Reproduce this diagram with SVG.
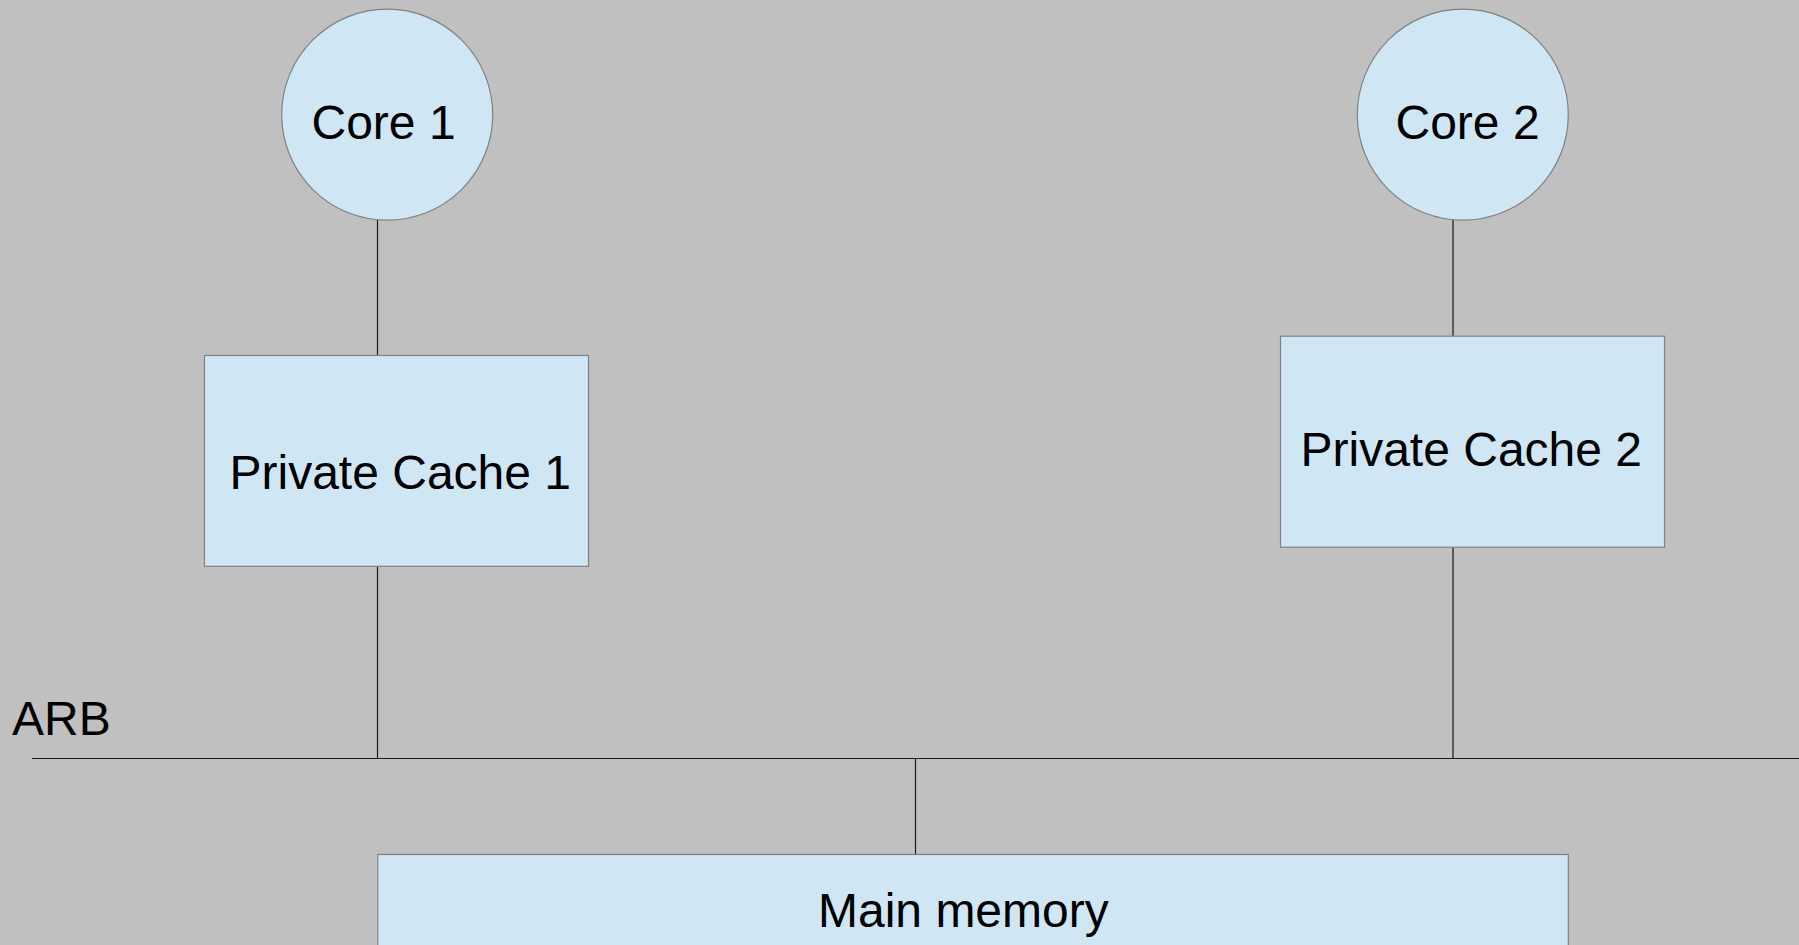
<svg xmlns="http://www.w3.org/2000/svg" width="1799" height="945" viewBox="0 0 1799 945">
<style>
.node{fill:#cfe7f5;stroke:#808080;stroke-width:1.2}
.lbl{font-family:"Liberation Sans",Arial,sans-serif;font-size:48px;fill:#000}
.conn{stroke:#1a1a1a;stroke-width:1.2;fill:none}
</style>
<rect x="0" y="0" width="1799" height="945" fill="#c0c0c0"/>
<g id="connectors">
<line class="conn" x1="377.5" y1="220" x2="377.5" y2="355.5"/>
<line class="conn" x1="377.5" y1="566" x2="377.5" y2="758.5"/>
<line class="conn" x1="1453" y1="220" x2="1453" y2="336"/>
<line class="conn" x1="1453" y1="547" x2="1453" y2="758.5"/>
<line class="conn" x1="32" y1="758.5" x2="1799" y2="758.5"/>
<line class="conn" x1="915.5" y1="758.5" x2="915.5" y2="854.5"/>
</g>
<g id="core1">
<circle class="node" cx="387.2" cy="114.7" r="105.5"/>
<text class="lbl" x="311.5" y="139.3">Core 1</text>
</g>
<g id="core2">
<circle class="node" cx="1462.8" cy="114.7" r="105.5"/>
<text class="lbl" x="1395.5" y="139.3">Core 2</text>
</g>
<g id="cache1">
<rect class="node" x="204.5" y="355.5" width="384" height="210.8"/>
<text class="lbl" x="229.5" y="489.3">Private Cache 1</text>
</g>
<g id="cache2">
<rect class="node" x="1280.5" y="336.2" width="384" height="211"/>
<text class="lbl" x="1300.5" y="466">Private Cache 2</text>
</g>
<g id="arb">
<text class="lbl" x="12" y="735">ARB</text>
</g>
<g id="mainmem">
<rect class="node" x="377.8" y="854.5" width="1190.5" height="120"/>
<text class="lbl" x="818" y="926.7">Main memory</text>
</g>
</svg>
